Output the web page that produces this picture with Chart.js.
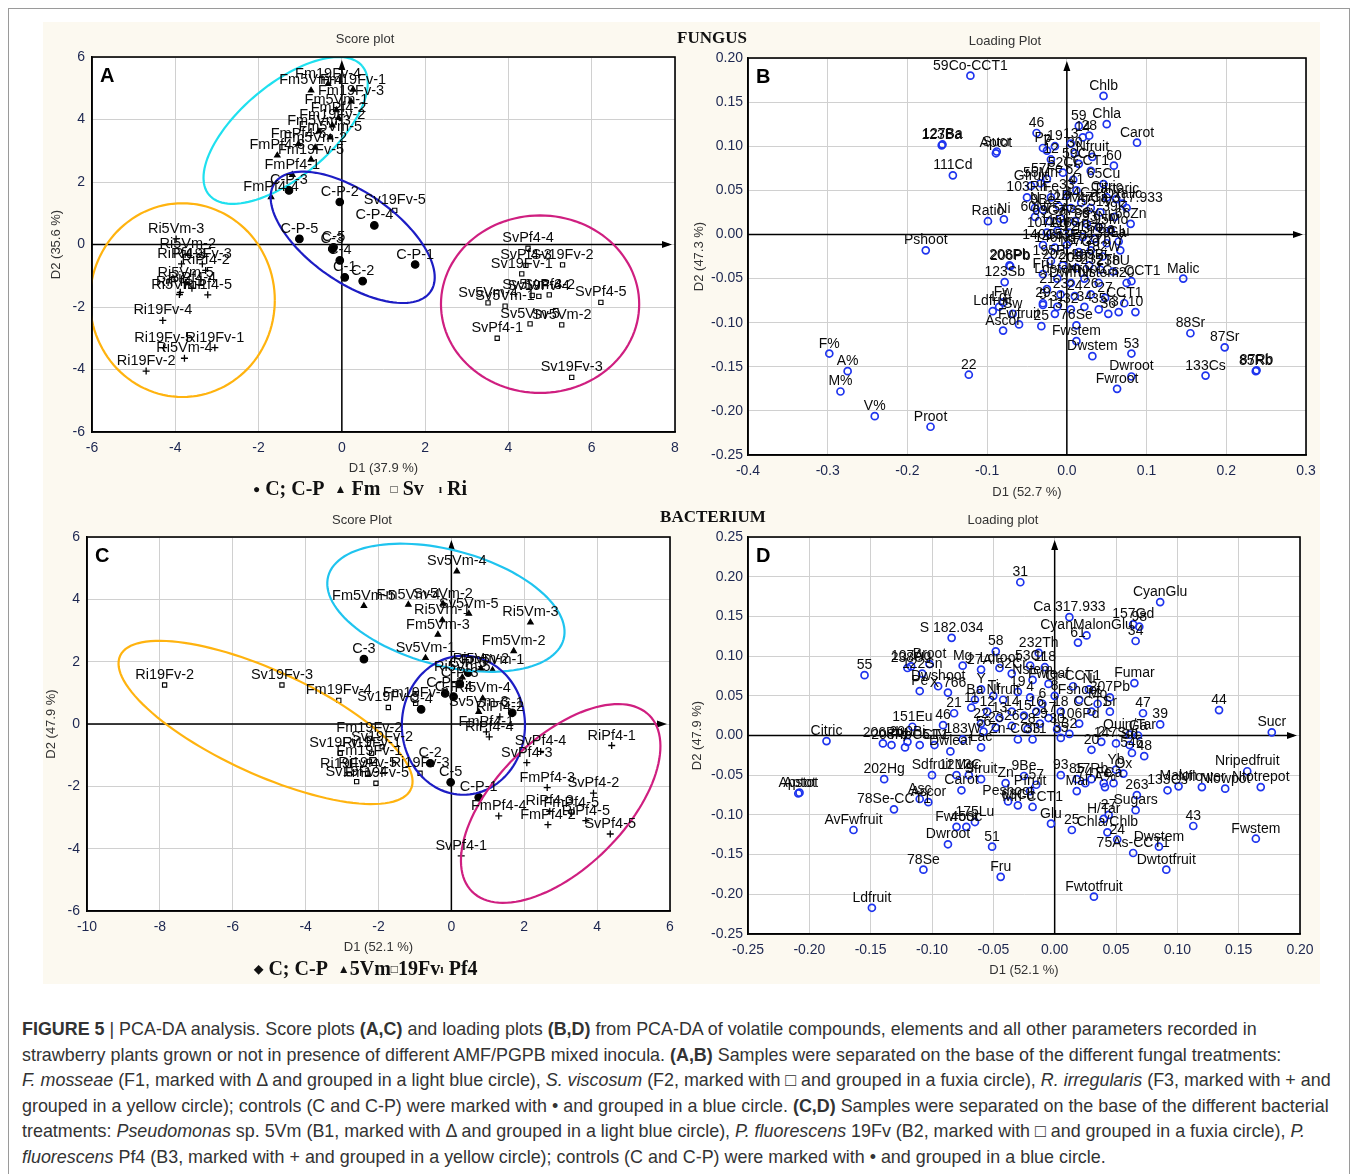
<!DOCTYPE html>
<html>
<head>
<meta charset="utf-8">
<script src="https://cdn.jsdelivr.net/npm/chart.js@4.4.1/dist/chart.umd.min.js"></script>
<style>
  body { margin: 0; width: 1358px; height: 1174px; background: #fff; position: relative; overflow: hidden;
         font-family: "Liberation Sans", Arial, sans-serif; }
  #frame { position: absolute; left: 8px; top: 8px; width: 1342px; height: 1180px; border: 1px solid #9a9a9a; box-sizing: border-box; }
  #cream { position: absolute; left: 43px; top: 22px; width: 1277px; height: 962px; background: #fcf9f0; }
  canvas { position: absolute; }
  .t { position: absolute; transform: translate(-50%, -50%); white-space: nowrap; color: #333; font-size: 13px; }
  .big { font-family: "Liberation Serif", "Times New Roman", serif; font-weight: bold; font-size: 17px; color: #111; }
  .leg { font-size: 20px; }
  .s { font-size: 12px; position: relative; top: -2px; }
  .cap { position: absolute; left: 22px; top: 1017px; width: 1330px; font-size: 17.9px; line-height: 25.5px; color: #333; white-space: nowrap; }
</style>
</head>
<body>
<div id="frame"></div>
<div id="cream"></div>
<canvas id="cA" width="650" height="480" style="left:40px;top:22px"></canvas>
<canvas id="cB" width="640" height="480" style="left:690px;top:22px"></canvas>
<canvas id="cC" width="650" height="470" style="left:40px;top:505px"></canvas>
<canvas id="cD" width="640" height="478" style="left:690px;top:505px"></canvas>

<div class="t" style="left:365px;top:38px">Score plot</div>
<div class="t" style="left:1005px;top:40px">Loading Plot</div>
<div class="t big" style="left:712px;top:38px">FUNGUS</div>
<div class="t big" style="left:713px;top:517px">BACTERIUM</div>
<div class="t" style="left:362px;top:519px">Score Plot</div>
<div class="t" style="left:1003px;top:519px">Loading plot</div>
<div class="t big leg" style="left:360px;top:488px"><span class="s">●</span> C; C-P&nbsp;&nbsp;<span class="s">▲</span> Fm&nbsp;&nbsp;<span class="s">□</span> Sv&nbsp;&nbsp;&nbsp;<span class="s">ı</span> Ri</div>
<div class="t big leg" style="left:366px;top:968px"><span class="s">◆</span> C; C-P&nbsp;&nbsp;<span class="s">▲</span>5Vm<span class="s">□</span>19Fv<span class="s">ı</span> Pf4</div>

<div class="cap">
<b>FIGURE 5</b> | PCA-DA analysis. Score plots <b>(A,C)</b> and loading plots <b>(B,D)</b> from PCA-DA of volatile compounds, elements and all other parameters recorded in<br>
strawberry plants grown or not in presence of different AMF/PGPB mixed inocula. <b>(A,B)</b> Samples were separated on the base of the different fungal treatments:<br>
<i>F. mosseae</i> (F1, marked with Δ and grouped in a light blue circle), <i>S. viscosum</i> (F2, marked with □ and grouped in a fuxia circle), <i>R. irregularis</i> (F3, marked with + and<br>
grouped in a yellow circle); controls (C and C-P) were marked with • and grouped in a blue circle. <b>(C,D)</b> Samples were separated on the base of the different bacterial<br>
treatments: <i>Pseudomonas</i> sp. 5Vm (B1, marked with Δ and grouped in a light blue circle), <i>P. fluorescens</i> 19Fv (B2, marked with □ and grouped in a fuxia circle), <i>P.</i><br>
<i>fluorescens</i> Pf4 (B3, marked with + and grouped in a yellow circle); controls (C and C-P) were marked with • and grouped in a blue circle.
</div>

<script>
// ---- Panel A: fungal score plot ----
const aCtrlNames = ["C-P-2", "C-P-4", "C-P-5", "C-5", "C-3", "C-4", "C-1", "C-2", "C-P-1", "C-P-3"];
const aCtrlX = [-0.05, 0.78, -1.02, -0.20, -0.23, -0.05, 0.07, 0.50, 1.76, -1.27];
const aCtrlY = [1.36, 0.61, 0.18, -0.09, -0.14, -0.51, -1.05, -1.17, -0.64, 1.73];

const aFmNames = ["Fm19Fv-4", "Fm5Vm-4", "Fm19Fv-1", "Fm19Fv-3", "Fm5Vm-1", "FmPf4-2", "Fm19Fv-2", "Fm5Vm-5",
  "Fm5Vm-2", "FmPf4-5", "FmPf4-3", "Fm19Fv-5", "FmPf4-1", "FmPf4-4", "Fm5Vm-3"];
const aFmX = [-0.33, -0.74, 0.27, 0.22, -0.13, -0.08, -0.23, -0.28, -0.64, -1.04, -1.55, -0.74, -1.19, -1.70, -0.55];
const aFmY = [5.14, 4.93, 4.96, 4.58, 4.30, 4.05, 3.81, 3.43, 3.10, 3.22, 2.85, 2.72, 2.23, 1.52, 3.62];

const aSvNames = ["SvPf4-4", "SvPf4-3", "Sv19Fv-2", "Sv19Fv-1", "SvPf4-2", "Sv5Vm-3", "Sv19Fv-4", "SvPf4-5",
  "Sv5Vm-4", "Sv5Vm-1", "Sv5Vm-5", "Sv5Vm-2", "SvPf4-1", "Sv19Fv-3", "Sv19Fv-5"];
const aSvX = [4.47, 4.42, 5.30, 4.32, 4.98, 4.57, 4.73, 6.22, 3.51, 3.92, 4.52, 5.28, 3.73, 5.52, 1.27];
const aSvY = [-0.12, -0.67, -0.65, -0.94, -1.61, -1.63, -1.66, -1.85, -1.87, -1.97, -2.54, -2.57, -3.00, -4.25, 1.09];

const aRiNames = ["Ri5Vm-3", "Ri5Vm-2", "RiPf4-3", "Ri19Fv-3", "RiPf4-2", "Ri5Vm-5", "Ri5Vm-1", "RiPf4-5",
  "RiPf4-1", "RiPf4-4", "Ri19Fv-4", "Ri19Fv-5", "Ri19Fv-1", "Ri5Vm-4", "Ri19Fv-2"];
const aRiX = [-3.98, -3.70, -3.85, -3.35, -3.27, -3.75, -3.90, -3.22, -3.88, -3.60, -4.30, -4.28, -3.05, -3.78, -4.70];
const aRiY = [0.18, -0.30, -0.62, -0.62, -0.83, -1.22, -1.60, -1.61, -1.53, -1.40, -2.43, -3.30, -3.30, -3.64, -4.05];

// ellipses: centre x, centre y, first semi-axis (dx, dy), second semi-axis (dx, dy), data units
const aEllCyan = [-1.35, 3.65, 1.84, 2.06, -0.71, 1.13];
const aEllBlue = [0.26, 0.23, 1.87, -1.74, 0.62, 1.18];
const aEllYellow = [-3.83, -1.78, 2.22, 0, 0, 3.10];
const aEllMagenta = [4.76, -1.91, 2.38, 0, 0, 2.84];

// ---- Panel B: fungal loading plot ----
const bOuterNames = ["59Co-CCT1", "Chlb", "59", "Chla", "Carot", "123Ba", "127Ba", "Aptot", "Sucr", "111Cd",
  "46", "Pshoot", "Malic", "88Sr", "87Sr", "133Cs", "85Rb", "87Rb", "F%", "A%",
  "M%", "V%", "Proot", "22", "Fwroot", "Dwroot", "53", "Dwstem", "Fwstem", "25",
  "Ascor", "60", "10", "123Sb", "208Pb", "206Pb", "Ratio", "Ni", "55Mn", "Fw",
  "Ldfruit", "Ca 317.933", "Y", "Cs-CCT1", "5", "13", "76Se", "CCT1"];
const bOuterX = [-0.121, 0.046, 0.015, 0.050, 0.088, -0.157, -0.156, -0.089, -0.088, -0.143,
  -0.038, -0.177, 0.146, 0.155, 0.198, 0.174, 0.237, 0.238, -0.298, -0.275,
  -0.284, -0.241, -0.171, -0.123, 0.063, 0.081, 0.081, 0.032, 0.012, -0.032,
  -0.080, 0.059, 0.086, -0.078, -0.072, -0.071, -0.099, -0.079, -0.033, -0.080,
  -0.093, 0.075, 0.067, 0.081, -0.030, -0.015, 0.012, 0.072];
const bOuterY = [0.180, 0.157, 0.123, 0.125, 0.104, 0.101, 0.102, 0.092, 0.094, 0.067,
  0.115, -0.018, -0.050, -0.112, -0.128, -0.160, -0.155, -0.154, -0.135, -0.155,
  -0.178, -0.206, -0.218, -0.159, -0.175, -0.161, -0.135, -0.138, -0.121, -0.104,
  -0.109, 0.078, -0.088, -0.054, -0.035, -0.036, 0.015, 0.017, 0.058, -0.077,
  -0.087, 0.030, -0.018, -0.053, -0.080, -0.090, -0.103, -0.078];

const bCoreNames = ["7", "19", "13", "Nfruit", "Pp", "14", "28", "30", "12", "59Co",
  "CCT1", "52Cr", "62", "57Fe", "Gfruit", "103Rh", "65Cu", "N", "60Ni", "Fe",
  "33", "41", "Citric", "Tartaric", "Oxalic", "9Be", "11B", "24Mg", "44Ca", "47Ti",
  "51V", "39K", "66Zn", "69Ga", "75As", "77Se", "89Y", "93Nb", "95Mo", "107Ag",
  "115In", "118Sn", "121Sb", "137Ba", "139La", "Glu", "140Ce", "146Nd", "153Eu", "157Gd",
  "172Yb", "182W", "195Pt", "202Hg", "205Tl", "209Bi", "232Th", "238U", "Fru", "Ldstem",
  "Dwfruit", "Nroot", "Nstem", "20", "21", "23", "24", "26", "27", "29",
  "31", "32", "34", "35", "36", "37", "Fwfruit", "Sw", "Ld"];
const bCoreX = [-0.025, -0.015, 0.005, 0.032, -0.030, 0.020, 0.028, 0.010, -0.020, 0.015,
  0.030, -0.005, 0.008, -0.025, -0.045, -0.050, 0.046, -0.040, -0.040, -0.020,
  0.000, 0.012, 0.050, 0.062, 0.070, -0.030, -0.010, 0.005, 0.018, 0.030,
  0.042, 0.060, 0.080, -0.022, -0.008, 0.010, 0.025, 0.040, 0.055, -0.025,
  -0.012, 0.003, 0.020, 0.035, 0.050, 0.065, -0.030, -0.015, 0.000, 0.015,
  0.030, 0.045, -0.020, -0.005, 0.012, 0.028, 0.042, 0.058, -0.030, -0.012,
  0.005, 0.022, 0.040, 0.075, -0.025, -0.008, 0.010, 0.030, 0.048, -0.030,
  -0.012, 0.005, 0.022, 0.040, 0.052, 0.065, -0.060, -0.068, -0.085];
const bCoreY = [0.095, 0.100, 0.103, 0.088, 0.098, 0.110, 0.112, 0.092, 0.085, 0.080,
  0.072, 0.070, 0.062, 0.063, 0.055, 0.042, 0.057, 0.030, 0.020, 0.042,
  0.045, 0.050, 0.042, 0.040, 0.035, 0.028, 0.032, 0.030, 0.036, 0.030,
  0.025, 0.020, 0.012, 0.015, 0.018, 0.015, 0.012, 0.008, 0.005, 0.002,
  0.004, 0.002, -0.003, -0.005, -0.010, -0.008, -0.012, -0.015, -0.012, -0.020,
  -0.018, -0.025, -0.030, -0.035, -0.038, -0.035, -0.040, -0.042, -0.045, -0.050,
  -0.055, -0.050, -0.055, -0.055, -0.062, -0.068, -0.070, -0.068, -0.072, -0.078,
  -0.082, -0.085, -0.082, -0.085, -0.090, -0.088, -0.102, -0.090, -0.082];

// ---- Panel C: bacterial score plot ----
const cCtrlNames = ["C-3", "C-P-2", "C-P-4", "C-4", "C-1", "C-2", "C-5", "C-P-1", "C-P-3", "C-P-5"];
const cCtrlX = [-2.40, -0.17, 0.06, -0.83, 1.67, -0.58, -0.02, 0.75, 0.23, 0.46];
const cCtrlY = [2.08, 0.98, 0.88, 0.47, 0.36, -1.26, -1.87, -2.35, 1.30, 1.65];

const c5VmNames = ["Sv5Vm-4", "Fm5Vm-5", "Fm5Vm-4", "Sv5Vm-2", "Sv5Vm-5", "Ri5Vm-3", "Ri5Vm-1", "Fm5Vm-3",
  "Fm5Vm-2", "Sv5Vm-1", "Fm5Vm-1", "Ri5Vm-2", "Ri5Vm-4", "Sv5Vm-3", "Ri5Vm-5"];
const c5VmX = [0.15, -2.40, -1.18, -0.23, 0.48, 2.17, -0.25, -0.37, 1.71, -0.71, 1.13, 0.81, 0.86, 0.75, 0.30];
const c5VmY = [4.90, 3.79, 3.83, 3.86, 3.54, 3.26, 3.33, 2.87, 2.34, 2.12, 1.73, 1.78, 0.82, 0.39, 1.50];

const c19FvNames = ["Ri19Fv-2", "Sv19Fv-3", "Fm19Fv-4", "Sv19Fv-5", "Fm19Fv-3", "Fm19Fv-2", "Sv19Fv-1", "Sv19Fv-2",
  "Ri19Fv-1", "Sv19Fv-4", "Fm19Fv-5", "Ri19Fv-3", "Ri19Fv-5", "Fm19Fv-1", "Ri19Fv-4"];
const c19FvX = [-7.87, -4.65, -3.09, -1.73, -0.98, -2.25, -3.05, -1.90, -2.19, -2.60, -2.07, -0.86, -2.30, -2.25, -2.80];
const c19FvY = [1.25, 1.25, 0.76, 0.53, 0.66, -0.46, -0.94, -0.73, -0.94, -1.85, -1.90, -1.58, -1.58, -1.20, -1.60];

const cPf4Names = ["RiPf4-1", "SvPf4-4", "SvPf4-3", "RiPf4-4", "RiPf4-2", "FmPf4-3", "SvPf4-2", "FmPf4-4",
  "RiPf4-3", "RiPf4-5", "FmPf4-2", "SvPf4-5", "SvPf4-1", "FmPf4-5", "FmPf4-1"];
const cPf4X = [4.40, 2.45, 2.07, 1.04, 1.33, 2.63, 3.90, 1.30, 2.70, 3.69, 2.65, 4.36, 0.27, 3.29, 0.96];
const cPf4Y = [-0.69, -0.88, -1.24, -0.41, 0.23, -2.04, -2.22, -2.95, -2.80, -3.10, -3.23, -3.53, -4.23, -2.86, -0.25];

const cEllCyan = [-0.15, 3.73, 3.23, -1.01, 0.41, 1.79];
const cEllBlue = [0.33, -0.04, 1.69, 0, 0, 2.23];
const cEllYellow = [-5.10, 0.05, 3.99, -2.14, 0.60, 1.51];
const cEllMagenta = [3.00, -2.55, 2.43, 2.83, -1.26, 1.47];

// ---- Panel D: bacterial loading plot ----
const dOuterNames = ["31", "CyanGlu", "Ca 317.933", "157Gd", "98", "34", "CyanMalonGlu", "61", "S 182.034", "58",
  "232Th", "55", "107Ag", "Broot", "Fumar", "44", "Sucr", "47", "39", "Quin/Tar",
  "48", "Citric", "Apstot", "Aptot", "202Hg", "78Se-CCT1", "AvFwfruit", "Ldfruit", "78Se", "Dwroot",
  "Fwroot", "51", "Fru", "175Lu", "Glu", "Fwtotfruit", "25", "24", "Chla/Chlb", "75As-CCT1",
  "Dwstem", "Dwtotfruit", "43", "Fwstem", "Nripedfruit", "Ntotrepot", "Nlowpot", "Nflower", "Malon", "133Cs",
  "151Eu", "46", "21", "X 766", "Pe", "Sdfruit", "9Be", "A%", "20", "2",
  "Carot", "Ascor", "Peshoot", "Sugars", "27"];
const dOuterX = [-0.028, 0.086, 0.012, 0.064, 0.069, 0.066, 0.026, 0.019, -0.084, -0.048,
  -0.013, -0.155, -0.117, -0.102, 0.065, 0.134, 0.177, 0.072, 0.086, 0.061,
  0.073, -0.186, -0.209, -0.208, -0.139, -0.131, -0.164, -0.149, -0.107, -0.087,
  -0.080, -0.051, -0.044, -0.065, -0.003, 0.032, 0.014, 0.051, 0.043, 0.064,
  0.085, 0.091, 0.113, 0.164, 0.157, 0.168, 0.139, 0.120, 0.101, 0.092,
  -0.116, -0.091, -0.082, -0.087, -0.110, -0.100, -0.025, 0.041, 0.030, 0.038,
  -0.076, -0.103, -0.038, 0.066, 0.044];
const dOuterY = [0.193, 0.168, 0.149, 0.140, 0.137, 0.119, 0.126, 0.117, 0.123, 0.106,
  0.104, 0.076, 0.087, 0.090, 0.066, 0.032, 0.004, 0.028, 0.014, 0.001,
  -0.026, -0.007, -0.073, -0.072, -0.055, -0.093, -0.119, -0.217, -0.169, -0.137,
  -0.115, -0.140, -0.178, -0.109, -0.111, -0.203, -0.119, -0.131, -0.122, -0.148,
  -0.140, -0.169, -0.114, -0.130, -0.045, -0.065, -0.067, -0.065, -0.064, -0.069,
  0.011, 0.013, 0.028, 0.054, 0.056, -0.050, -0.051, -0.065, -0.018, -0.008,
  -0.069, -0.084, -0.083, -0.094, -0.100];

const dCoreNames = ["238U", "122Sn", "Dwshoot", "Mg", "27Al", "Ldroot", "52Cr", "53Cr", "118", "Nstem",
  "Fwleaf", "Cr-CCT1", "Ni", "207Pb", "Y", "Ti", "Nfruit", "19", "4", "6",
  "8", "Fshoot", "Mo", "CCT1", "11", "12", "13", "14", "15", "16",
  "17", "18", "106Pd", "22", "23", "26", "28", "29", "30", "32",
  "56", "Zn-CCT1", "33", "35", "183W", "Lac", "206Pb", "208Pb", "209Bi", "Pb-CCT1",
  "7", "51V", "Dwleaf", "12Mg", "13C", "Sfruit", "57", "Zn", "Pfruit", "63Cu",
  "Mn-CCT1", "Asc", "45Sc", "93", "85", "Mal", "74", "17Rb", "Fe", "Ca",
  "H/Tar", "Yb", "546", "147Sm", "263", "Sd", "Ga", "Ox", "Sr", "Ba"];
const dCoreX = [-0.120, -0.108, -0.095, -0.075, -0.060, -0.045, -0.035, -0.020, -0.008, -0.018,
  -0.005, 0.015, 0.028, 0.045, -0.060, -0.050, -0.042, -0.030, -0.020, -0.010,
  0.000, 0.020, 0.035, 0.030, -0.068, -0.055, -0.045, -0.035, -0.025, -0.015,
  -0.005, 0.005, 0.020, -0.060, -0.048, -0.035, -0.022, -0.012, 0.002, 0.012,
  -0.058, -0.030, -0.018, 0.005, -0.075, -0.060, -0.140, -0.133, -0.120, -0.110,
  -0.122, -0.098, -0.085, -0.080, -0.070, -0.060, -0.015, -0.040, -0.020, -0.030,
  -0.018, -0.110, -0.072, 0.005, 0.018, 0.018, 0.025, 0.030, 0.040, 0.048,
  0.040, 0.050, 0.063, 0.050, 0.067, 0.061, 0.068, 0.056, 0.045, -0.065];
const dCoreY = [0.085, 0.078, 0.062, 0.088, 0.083, 0.085, 0.078, 0.088, 0.086, 0.070,
  0.065, 0.062, 0.058, 0.048, 0.058, 0.050, 0.045, 0.055, 0.048, 0.040,
  0.050, 0.045, 0.040, 0.030, 0.035, 0.030, 0.022, 0.030, 0.025, 0.030,
  0.022, 0.030, 0.015, 0.015, 0.010, 0.012, 0.008, 0.015, 0.008, 0.002,
  0.005, -0.005, -0.005, -0.003, -0.005, -0.015, -0.010, -0.012, -0.008, -0.012,
  -0.015, -0.012, -0.020, -0.050, -0.050, -0.055, -0.062, -0.060, -0.070, -0.088,
  -0.090, -0.080, -0.115, -0.050, -0.055, -0.070, -0.060, -0.055, -0.060, -0.060,
  -0.105, -0.043, -0.022, -0.010, -0.075, -0.012, 0.000, -0.048, 0.030, 0.045];

const tickColor = "#1c2650";
const family = '"Liberation Sans", Arial, sans-serif';

function pts(xs, ys) {
  return xs.map((v, i) => ({ x: v, y: ys[i] }));
}

function ell(arr, color) {
  return { c: [arr[0], arr[1]], a: [arr[2], arr[3]], b: [arr[4], arr[5]], color };
}

const panelPlugin = {
  id: "panel",
  beforeDraw(chart) {
    const { ctx, chartArea: a } = chart;
    ctx.save();
    ctx.fillStyle = "#fff";
    ctx.fillRect(a.left, a.top, a.right - a.left, a.bottom - a.top);
    ctx.restore();
  },
  beforeDatasetsDraw(chart) {
    // axes through the origin, with arrow heads
    const { ctx, chartArea: a, scales: { x, y } } = chart;
    const x0 = x.getPixelForValue(0);
    const y0 = y.getPixelForValue(0);
    ctx.save();
    ctx.strokeStyle = "#000";
    ctx.fillStyle = "#000";
    ctx.lineWidth = 1.5;
    ctx.beginPath();
    ctx.moveTo(a.left, y0);
    ctx.lineTo(a.right - 6, y0);
    ctx.moveTo(x0, a.bottom);
    ctx.lineTo(x0, a.top + 6);
    ctx.stroke();
    ctx.beginPath();
    ctx.moveTo(a.right - 3, y0);
    ctx.lineTo(a.right - 13, y0 - 3.5);
    ctx.lineTo(a.right - 13, y0 + 3.5);
    ctx.closePath();
    ctx.moveTo(x0, a.top + 3);
    ctx.lineTo(x0 - 3.5, a.top + 13);
    ctx.lineTo(x0 + 3.5, a.top + 13);
    ctx.closePath();
    ctx.fill();
    ctx.restore();
  },
  afterDatasetsDraw(chart, args, opts) {
    const { ctx, chartArea: a, scales: { x, y } } = chart;
    ctx.save();
    ctx.beginPath();
    ctx.rect(a.left, a.top, a.right - a.left, a.bottom - a.top);
    ctx.clip();
    ctx.lineWidth = 2.2;
    (opts.ellipses || []).forEach((e) => {
      ctx.strokeStyle = e.color;
      ctx.beginPath();
      for (let i = 0; i <= 120; i++) {
        const t = (i / 120) * Math.PI * 2;
        const vx = e.c[0] + Math.cos(t) * e.a[0] + Math.sin(t) * e.b[0];
        const vy = e.c[1] + Math.cos(t) * e.a[1] + Math.sin(t) * e.b[1];
        const px = x.getPixelForValue(vx);
        const py = y.getPixelForValue(vy);
        if (i === 0) ctx.moveTo(px, py); else ctx.lineTo(px, py);
      }
      ctx.stroke();
    });
    // point names, centred above each marker
    ctx.font = opts.labelSize + "px " + family;
    ctx.fillStyle = "#0a0a0a";
    ctx.textAlign = "center";
    chart.data.datasets.forEach((ds, i) => {
      if (!ds.names) return;
      chart.getDatasetMeta(i).data.forEach((p, j) => {
        ctx.fillText(ds.names[j], p.x, p.y - 6);
      });
    });
    ctx.restore();
  },
  afterDraw(chart, args, opts) {
    const { ctx, chartArea: a } = chart;
    ctx.save();
    ctx.strokeStyle = "#000";
    ctx.lineWidth = 1.6;
    ctx.strokeRect(a.left, a.top, a.right - a.left, a.bottom - a.top);
    ctx.font = "bold 20px " + family;
    ctx.fillStyle = "#000";
    ctx.textBaseline = "top";
    ctx.fillText(opts.letter, a.left + 8, a.top + 9);
    ctx.restore();
  }
};

function axis(o) {
  const fmt = (v) => (Math.abs(v) < 1e-9 ? 0 : v).toFixed(o.dec);
  return {
    type: "linear",
    min: o.min,
    max: o.max,
    afterFit(s) {
      if (o.width) s.width = o.width;
      if (o.height) s.height = o.height;
    },
    ticks: {
      stepSize: o.step,
      color: tickColor,
      font: { size: 14, family },
      padding: o.tickPad,
      maxRotation: 0,
      autoSkip: false,
      callback: fmt
    },
    grid: { color: "#d0d0d0", lineWidth: 1, drawTicks: false },
    border: { color: "#000", width: 1.5 },
    title: {
      display: true,
      text: o.title,
      color: "#333",
      font: { size: 13, family },
      padding: o.titlePad
    }
  };
}

function panel(id, cfg) {
  return new Chart(document.getElementById(id), {
    type: "scatter",
    data: { datasets: cfg.datasets },
    options: {
      responsive: false,
      animation: false,
      events: [],
      layout: { padding: { top: cfg.padTop, right: cfg.padRight, left: 0, bottom: 0 } },
      plugins: {
        legend: { display: false },
        tooltip: { enabled: false },
        panel: { letter: cfg.letter, ellipses: cfg.ellipses || [], labelSize: cfg.labelSize }
      },
      scales: { x: cfg.x, y: cfg.y }
    },
    plugins: [panelPlugin]
  });
}

function scoreSet(xs, ys, names, style) {
  const base = { data: pts(xs, ys), names, pointRadius: 3.3, borderColor: "#000", borderWidth: 1.1 };
  if (style === "dot") return Object.assign(base, { pointStyle: "circle", pointRadius: 3.8, backgroundColor: "#000" });
  if (style === "tri") return Object.assign(base, { pointStyle: "triangle", pointRadius: 3.2, backgroundColor: "#000" });
  if (style === "box") return Object.assign(base, { pointStyle: "rect", pointRadius: 3, backgroundColor: "#fff" });
  return Object.assign(base, { pointStyle: "cross", pointRadius: 3.5, backgroundColor: "#000", borderWidth: 1.3 });
}

function loadSet(xs, ys, names) {
  return {
    data: pts(xs, ys), names, pointStyle: "circle", pointRadius: 3.5,
    borderColor: "#1e34ee", borderWidth: 1.7, backgroundColor: "rgba(0,0,0,0)"
  };
}

panel("cA", {
  letter: "A", padTop: 35, padRight: 15, labelSize: 14.5,
  x: axis({ min: -6, max: 8, step: 2, dec: 0, height: 70, tickPad: 8, title: "D1 (37.9 %)", titlePad: { top: 0, bottom: 26 } }),
  y: axis({ min: -6, max: 6, step: 2, dec: 0, width: 52, tickPad: 7, title: "D2 (35.6 %)", titlePad: { top: 9, bottom: 0 } }),
  ellipses: [ell(aEllCyan, "#1fe0ef"), ell(aEllBlue, "#1d1dc4"), ell(aEllYellow, "#ffb30f"), ell(aEllMagenta, "#cf1f80")],
  datasets: [
    scoreSet(aCtrlX, aCtrlY, aCtrlNames, "dot"),
    scoreSet(aFmX, aFmY, aFmNames, "tri"),
    scoreSet(aSvX, aSvY, aSvNames, "box"),
    scoreSet(aRiX, aRiY, aRiNames, "plus")
  ]
});

panel("cB", {
  letter: "B", padTop: 36, padRight: 24, labelSize: 14,
  x: axis({ min: -0.4, max: 0.3, step: 0.1, dec: 1, height: 47, tickPad: 8, title: "D1 (52.7 %)", titlePad: { top: 0, bottom: 2 } }),
  y: axis({ min: -0.25, max: 0.2, step: 0.05, dec: 2, width: 58, tickPad: 5, title: "D2 (47.3 %)", titlePad: { top: 2, bottom: 0 } }),
  datasets: [loadSet(bCoreX, bCoreY, bCoreNames), loadSet(bOuterX, bOuterY, bOuterNames)]
});

panel("cC", {
  letter: "C", padTop: 32, padRight: 20, labelSize: 14.5,
  x: axis({ min: -10, max: 6, step: 2, dec: 0, height: 64, tickPad: 8, title: "D1 (52.1 %)", titlePad: { top: 0, bottom: 20 } }),
  y: axis({ min: -6, max: 6, step: 2, dec: 0, width: 47, tickPad: 7, title: "D2 (47.9 %)", titlePad: { top: 4, bottom: 0 } }),
  ellipses: [ell(cEllCyan, "#1fc4ef"), ell(cEllBlue, "#1d1dc4"), ell(cEllYellow, "#ffb30f"), ell(cEllMagenta, "#cf1f80")],
  datasets: [
    scoreSet(cCtrlX, cCtrlY, cCtrlNames, "dot"),
    scoreSet(c5VmX, c5VmY, c5VmNames, "tri"),
    scoreSet(c19FvX, c19FvY, c19FvNames, "box"),
    scoreSet(cPf4X, cPf4Y, cPf4Names, "plus")
  ]
});

panel("cD", {
  letter: "D", padTop: 32, padRight: 30, labelSize: 14,
  x: axis({ min: -0.25, max: 0.2, step: 0.05, dec: 2, height: 49, tickPad: 8, title: "D1 (52.1 %)", titlePad: { top: 0, bottom: 5 } }),
  y: axis({ min: -0.25, max: 0.25, step: 0.05, dec: 2, width: 58, tickPad: 5, title: "D2 (47.9 %)", titlePad: { top: 0, bottom: 0 } }),
  datasets: [loadSet(dCoreX, dCoreY, dCoreNames), loadSet(dOuterX, dOuterY, dOuterNames)]
});
</script>
</body>
</html>
